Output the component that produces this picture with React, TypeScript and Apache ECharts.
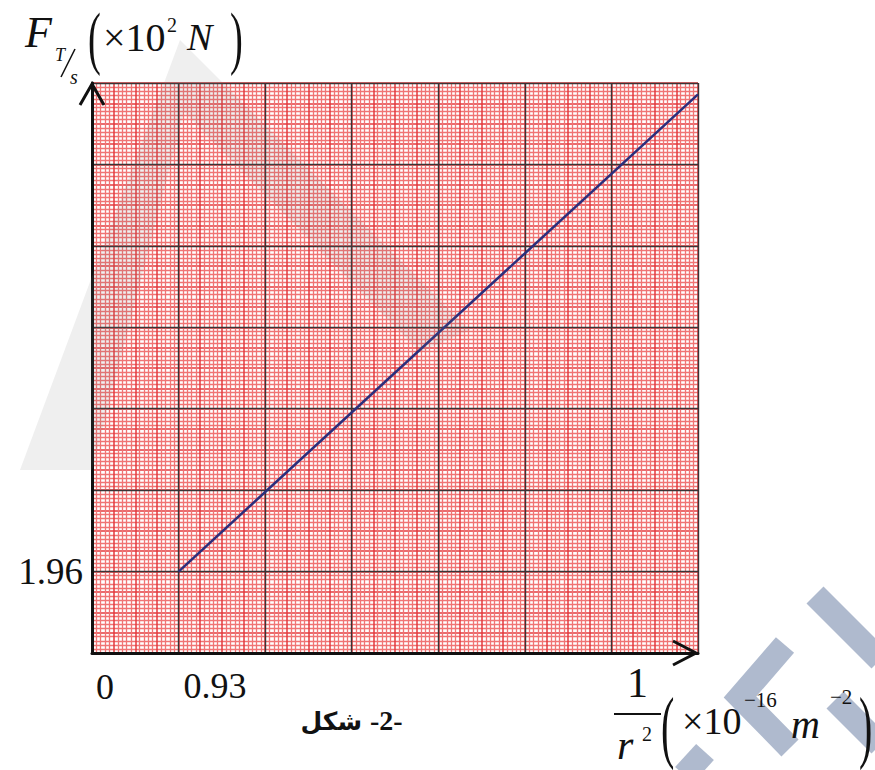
import React, { useEffect, useRef } from 'react';
import * as echarts from 'echarts';

// 1/r² in units of 10^16 m^-2, F_T/s in units of 10^2 N
const invR2 = [0.93, 1.014];
const force = [1.96, 2.137];

// labelled values on the axes
const xTickValues = [0.93];
const xTickLabels = ['0.93'];
const yTickValues = [1.96];
const yTickLabels = ['1.96'];
const originLabel = '0';

const X_MIN = 0.916;
const X_MAX = 1.014;
const Y_MIN = 1.9298;
const Y_MAX = 2.1412;

const SERIF = 'Liberation Serif';
const ARABIC = 'DejaVu Sans';

// background graph paper: value axes in "paper units" (7 major squares each way)
const paperAxis = (interval: number, color: string, width: number, z: number, minor?: any) => ({
  type: 'value',
  min: 0,
  max: 7,
  interval,
  z,
  axisLine: { show: false },
  axisTick: { show: false },
  axisLabel: { show: false },
  splitLine: { show: true, lineStyle: { color, width } },
  minorTick: { show: false, splitNumber: 5 },
  minorSplitLine: minor ? { show: true, lineStyle: minor } : { show: false },
});

const dataAxis = (min: number, max: number, position: string) => ({
  type: 'value',
  min,
  max,
  position,
  z: 6,
  axisLine: { show: true, onZero: false, lineStyle: { color: '#111', width: 3 } },
  axisTick: { show: false },
  axisLabel: { show: false },
  splitLine: { show: false },
});

const txt = (text: string, x: number, y: number, size: number, extra: any = {}) => ({
  type: 'text',
  x,
  y,
  z: 30,
  scaleX: extra.scaleX ?? 1,
  style: {
    text,
    fontFamily: extra.fontFamily ?? SERIF,
    fontSize: size,
    fontStyle: extra.italic ? 'italic' : 'normal',
    fontWeight: extra.bold ? 'bold' : 'normal',
    fill: extra.fill ?? '#111',
    align: extra.align ?? 'left',
    verticalAlign: 'middle',
  },
});

export default function App() {
  const ref = useRef<HTMLDivElement>(null);

  useEffect(() => {
    const chart = echarts.init(ref.current!, null, { renderer: 'svg' });

    chart.setOption({
      animation: false,
      backgroundColor: '#fff',
      grid: { left: 92, top: 83, width: 606, height: 570, containLabel: false },
      xAxis: [
        dataAxis(X_MIN, X_MAX, 'bottom'),
        paperAxis(0.25, '#e33a3e', 1.5, 1, { color: '#f07474', width: 1.3 }),
        paperAxis(1, '#3a3436', 1.4, 2),
      ],
      yAxis: [
        dataAxis(Y_MIN, Y_MAX, 'left'),
        paperAxis(0.25, '#e33a3e', 1.5, 1, { color: '#f07474', width: 1.3 }),
        paperAxis(1, '#3a3436', 1.4, 2),
      ],
      series: [
        {
          type: 'line',
          xAxisIndex: 0,
          yAxisIndex: 0,
          data: invR2.map((v, i) => [v, force[i]]),
          symbol: 'none',
          z: 10,
          lineStyle: { color: '#2b2e7c', width: 2.5 },
        },
      ],
    });

    const px = (x: number, y: number) =>
      chart.convertToPixel({ xAxisIndex: 0, yAxisIndex: 0 }, [x, y]) as number[];
    const [ox, oy] = px(X_MIN, Y_MIN);
    const [ex, ey] = px(X_MAX, Y_MAX);

    const tickTexts: any[] = [];
    xTickValues.forEach((v, i) => {
      const [x] = px(v, Y_MIN);
      tickTexts.push(txt(xTickLabels[i], x + 5, oy + 33, 36));
    });
    yTickValues.forEach((v, i) => {
      const [, y] = px(X_MIN, v);
      tickTexts.push(txt(yTickLabels[i], ox - 9, y, 37, { align: 'right' }));
    });
    tickTexts.push(txt(originLabel, ox + 13, oy + 34, 36, { align: 'center' }));

    const arrowStyle = { stroke: '#111', lineWidth: 3, fill: 'none' };
    const wm = 'rgba(120,120,120,0.12)';
    const logo = 'rgba(110,130,165,0.55)';
    const ink = { stroke: '#111', lineWidth: 1.6 };

    chart.setOption({
      graphic: [
        // faint watermark strokes
        {
          type: 'polygon', z: 20, silent: true,
          shape: { points: [[180, 40], [470, 330], [420, 352], [184, 112], [92, 470], [20, 470]] },
          style: { fill: wm },
        },
        { type: 'line', z: 20, silent: true, shape: { x1: 815, y1: 595, x2: 880, y2: 660 }, style: { stroke: logo, lineWidth: 24 } },
        { type: 'polyline', z: 20, silent: true, shape: { points: [[785, 645], [740, 697], [790, 748]] }, style: { stroke: logo, lineWidth: 24, fill: 'none' } },
        { type: 'line', z: 20, silent: true, shape: { x1: 835, y1: 700, x2: 880, y2: 745 }, style: { stroke: logo, lineWidth: 24 } },
        { type: 'line', z: 20, silent: true, shape: { x1: 705, y1: 752, x2: 684, y2: 775 }, style: { stroke: logo, lineWidth: 24 } },

        // axis arrowheads
        { type: 'polyline', z: 25, shape: { points: [[ox - 12, ey + 22], [ox, ey + 1], [ox + 12, ey + 22]] }, style: arrowStyle },
        { type: 'polyline', z: 25, shape: { points: [[ex - 25, oy - 12], [ex - 2, oy], [ex - 25, oy + 12]] }, style: arrowStyle },

        ...tickTexts,

        // y-axis name: F_T/s (×10² N)
        txt('F', 25, 32, 44, { italic: true }),
        txt('T', 55, 55, 18, { italic: true }),
        { type: 'line', z: 30, shape: { x1: 61, y1: 77, x2: 75, y2: 49 }, style: ink },
        txt('s', 70, 77, 20, { italic: true }),
        txt('(', 88, 37, 70, { scaleX: 0.55 }),
        txt('×10', 103, 37, 40),
        txt('2', 167, 25, 20),
        txt('N', 187, 37, 38, { italic: true }),
        txt(')', 230, 37, 70, { scaleX: 0.55 }),

        // x-axis name: 1/r² (×10⁻¹⁶ m⁻²)
        txt('1', 627, 683, 42),
        { type: 'line', z: 30, shape: { x1: 614, y1: 714, x2: 661, y2: 714 }, style: { stroke: '#111', lineWidth: 2 } },
        txt('r', 617, 745, 42, { italic: true }),
        txt('2', 642, 734, 20),
        txt('(', 661, 726, 80, { scaleX: 0.5 }),
        txt('×10', 682, 721, 38),
        txt('−16', 744, 700, 21),
        txt('m', 791, 724, 40, { italic: true }),
        txt('−2', 830, 697, 21),
        txt(')', 859, 726, 80, { scaleX: 0.5 }),

        // figure caption
        txt('شكل', 362, 721, 25, { align: 'right', bold: true, fontFamily: ARABIC }),
        txt('-2-', 370, 720, 28, { bold: true }),
      ],
    });

    return () => chart.dispose();
  }, []);

  return (
    <div
      ref={ref}
      style={{ position: 'fixed', left: 0, top: 0, width: 875, height: 770 }}
    />
  );
}
